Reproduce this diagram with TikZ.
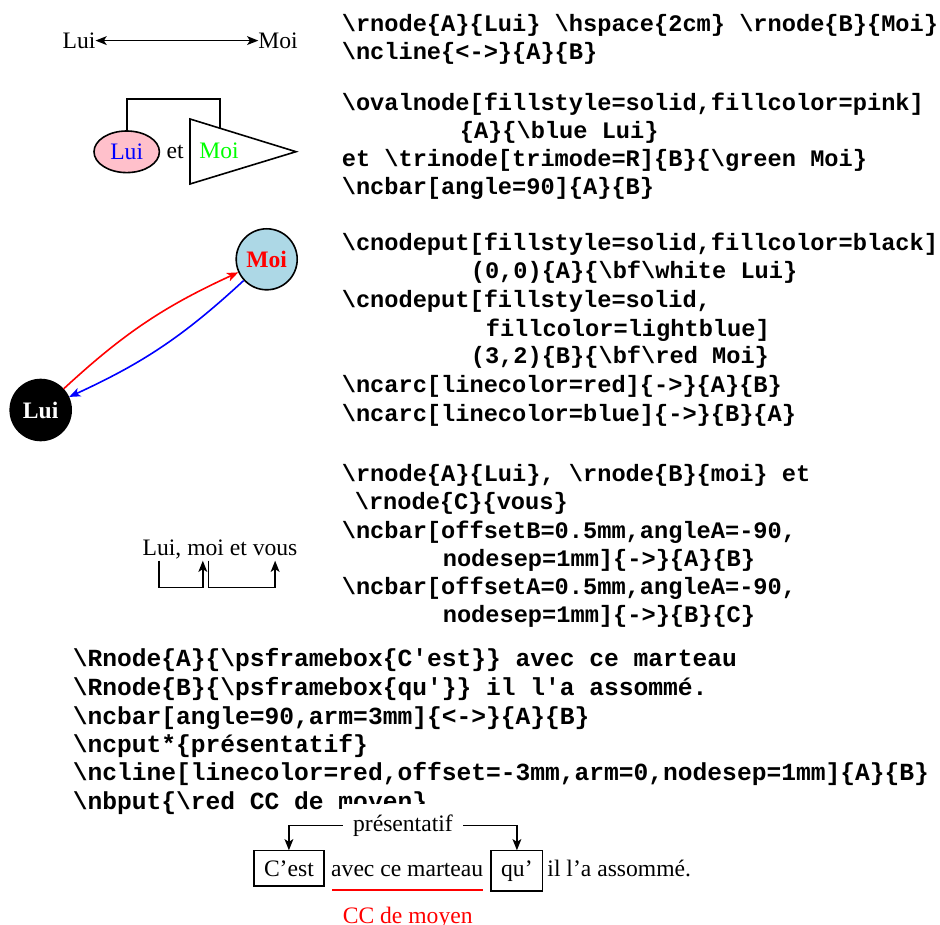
\documentclass[tikz,border=0pt]{standalone}
\usepackage{fontspec}
\setmainfont{Liberation Serif}
\setmonofont{Liberation Mono}
\usetikzlibrary{positioning,arrows.meta,shapes.geometric,calc}
\definecolor{luiPink}{HTML}{FFC0CB}
\definecolor{moiSky}{HTML}{ADD8E6}
\definecolor{moiGreen}{HTML}{00FF00}
\newcommand{\bs}{\textbackslash}

\begin{document}
\begin{tikzpicture}[x=0.5pt, y=-0.5pt, line width=0.8pt,
      >={Stealth[length=5.6pt, width=4.4pt, inset=1.4pt]},
      txt/.style={inner sep=0pt, outer sep=0pt, font=\fontsize{11.8}{14}\selectfont},
      code/.style={inner sep=0pt, anchor=base west, font=\fontsize{11.83}{14}\selectfont\ttfamily\bfseries},
      codeb/.style={inner sep=0pt, anchor=base west, font=\fontsize{12.3}{14}\selectfont\ttfamily\bfseries},
      cnode/.style={circle, draw, minimum size=30.5pt, inner sep=0pt, font=\fontsize{11.8}{14}\selectfont\bfseries},
      fbox/.style={draw, inner sep=5pt, outer sep=0pt, font=\fontsize{11.8}{14}\selectfont},
      lab/.style={fill=white, inner sep=5pt, font=\fontsize{11.8}{14}\selectfont}]
    \useasboundingbox (0,0) rectangle (940,924);
    % code, block 1
    \node[code] (k1) at (341,32) {\bs rnode\{A\}\{Lui\} \bs hspace\{2cm\} \bs rnode\{B\}\{Moi\}};
    \node[code] (k2) at (341,60) {\bs ncline\{<->\}\{A\}\{B\}};
    % code, block 2
    \node[code] (k3) at (341,111) {\bs ovalnode[fillstyle=solid,fillcolor=pink]};
    \node[code] (k4) at (459,139) {\{A\}\{\bs blue Lui\}};
    \node[code] (k5) at (341,167) {et \bs trinode[trimode=R]\{B\}\{\bs green Moi\}};
    \node[code] (k6) at (341,195) {\bs ncbar[angle=90]\{A\}\{B\}};
    % code, block 3
    \node[code] (k7) at (341,251) {\bs cnodeput[fillstyle=solid,fillcolor=black]};
    \node[code] (k8) at (470,279) {(0,0)\{A\}\{\bs bf\bs white Lui\}};
    \node[code] (k9) at (341,308) {\bs cnodeput[fillstyle=solid,};
    \node[code] (k10) at (485,336) {fillcolor=lightblue]};
    \node[code] (k11) at (470,364) {(3,2)\{B\}\{\bs bf\bs red Moi\}};
    \node[code] (k12) at (341,393) {\bs ncarc[linecolor=red]\{->\}\{A\}\{B\}};
    \node[code] (k13) at (341,421) {\bs ncarc[linecolor=blue]\{->\}\{B\}\{A\}};
    % code, block 4
    \node[code] (k14) at (341,481) {\bs rnode\{A\}\{Lui\}, \bs rnode\{B\}\{moi\} et};
    \node[code] (k15) at (354,509) {\bs rnode\{C\}\{vous\}};
    \node[code] (k16) at (341,538) {\bs ncbar[offsetB=0.5mm,angleA=-90,};
    \node[code] (k17) at (442,566) {nodesep=1mm]\{->\}\{A\}\{B\}};
    \node[code] (k18) at (341,594) {\bs ncbar[offsetA=0.5mm,angleA=-90,};
    \node[code] (k19) at (442,622) {nodesep=1mm]\{->\}\{B\}\{C\}};
    % code, bottom block
    \node[codeb] (m1) at (72,666) {\bs Rnode\{A\}\{\bs psframebox\{C'est\}\} avec ce marteau};
    \node[codeb] (m2) at (72,695) {\bs Rnode\{B\}\{\bs psframebox\{qu'\}\} il l'a assommé.};
    \node[codeb] (m3) at (72,724) {\bs ncbar[angle=90,arm=3mm]\{<->\}\{A\}\{B\}};
    \node[codeb] (m4) at (72,752) {\bs ncput*\{présentatif\}};
    \node[codeb] (m5) at (72,780) {\bs ncline[linecolor=red,offset=-3mm,arm=0,nodesep=1mm]\{A\}\{B\}};
    \node[codeb] (m6) at (72,809) {\bs nbput\{\bs red CC de moyen\}};
    % ncline
    \node[txt, anchor=base west] (r1a) at (62.7,48.3) {Lui};
    \node[txt, anchor=base west] (r1b) at (258.3,48.3) {Moi};
    \draw[<->] (r1a) -- (r1b);
    % oval and triangle
    \node[ellipse, draw, fill=luiPink, text=blue, minimum width=32.7pt, minimum height=20.8pt,
      inner sep=0pt, font=\fontsize{11.8}{14}\selectfont] (oA) at (126.7,151.8) {Lui};
    \node[txt, anchor=base west] (oet) at (166.7,158.3) {et};
    \node[txt, anchor=base west, text=moiGreen] (oB) at (199.3,158.3) {Moi};
    \draw (190,119) -- (296,151.7) -- (190,184) -- cycle;
    \coordinate (oBtop) at (220,128.3);
    \draw (oA.north) -- ++(0,-31) -| (oBtop);
    % circles and arcs
    \node[cnode, fill=black, text=white] (cA) at (40.7,410) {Lui};
    \node[cnode, fill=moiSky, text=red] (cB) at (266.7,259.3) {Moi};
    \draw[->, red] (cA) to[bend left=9] (cB);
    \draw[->, blue] (cB) to[bend left=9] (cA);
    % Lui, moi et vous
    \node[txt, anchor=base west] (p1) at (142.7,555) {Lui};
    \node[txt, right=0pt of p1.base east, anchor=base west] (p1c) {,};
    \node[txt, right=2.95pt of p1c.base east, anchor=base west] (p2) {moi};
    \node[txt, right=2.95pt of p2.base east, anchor=base west] (p2e) {et};
    \node[txt, right=2.95pt of p2e.base east, anchor=base west] (p3) {vous};
    \draw[->] ([yshift=-1mm]p1.base) -- ++(0,27) -| ([xshift=-1.4pt,yshift=-1mm]p2.base);
    \draw[->] ([xshift=1.4pt,yshift=-1mm]p2.base) -- ++(0,27) -| ([yshift=-1mm]p3.base);
    % framed sentence
    \node[fbox, anchor=base west] (fA) at (254,876) {C'est};
    \node[txt, right=3.7pt of fA.base east, anchor=base west] (fm) {avec ce marteau};
    \node[fbox, right=4pt of fm.base east, anchor=base west] (fB) {qu'};
    \node[txt, right=2.4pt of fB.base east, anchor=base west] (fe) {il l'a assommé.};
    \coordinate (barL) at ($(fA.north)+(0,-25)$);
    \coordinate (barR) at (fB.north |- barL);
    \draw[<->] (fA.north) -- (barL) -- (barR) node[midway, lab] (pres) {présentatif} -- (fB.north);
    \draw[red] ([xshift=4.2pt,yshift=-7pt]fA.base east) -- ([xshift=-4pt,yshift=-7pt]fB.base west)
      node[midway, below=8pt, inner sep=0pt, font=\fontsize{11.8}{14}\selectfont] (cc) {CC de moyen};
\end{tikzpicture}
\end{document}
